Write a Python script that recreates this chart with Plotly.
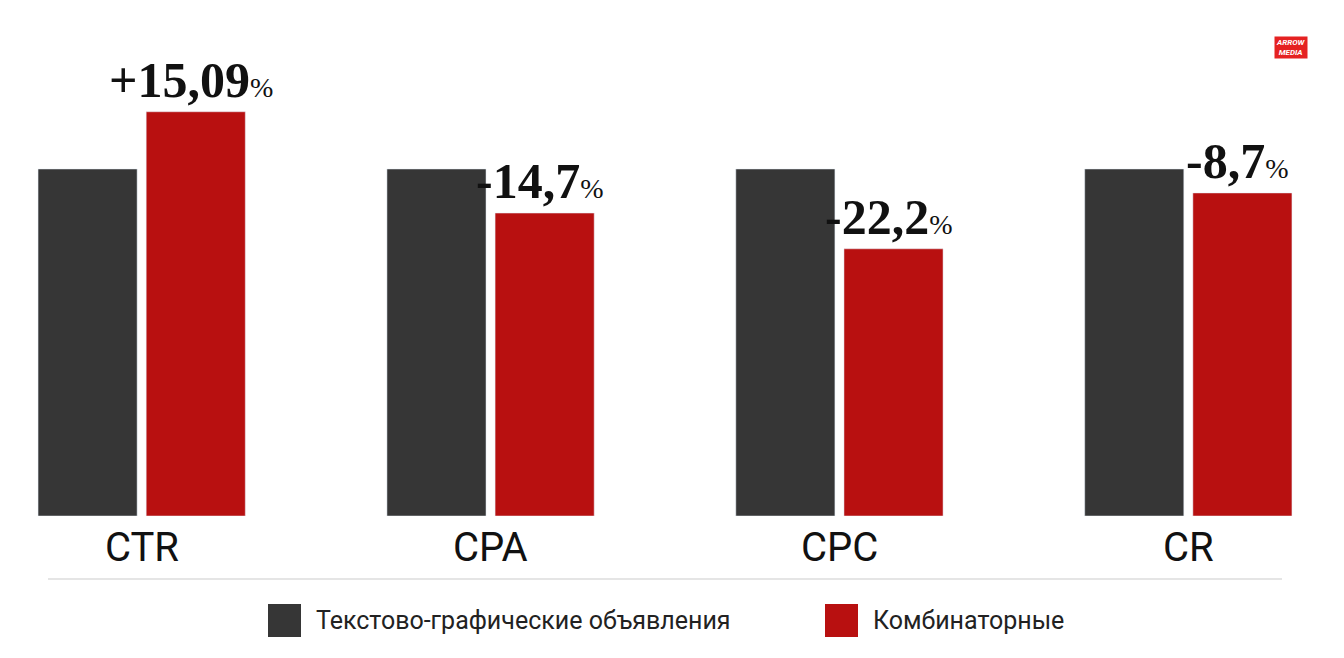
import plotly.graph_objects as go

categories = ["CTR", "CPA", "CPC", "CR"]
base_values = [100, 100, 100, 100]
combo_values = [116.5, 87.3, 77.0, 93.1]
change_labels = ["+15,09", "-14,7", "-22,2", "-8,7"]
legend_names = ["Текстово-графические объявления", "Комбинаторные"]

GREY = "#363636"
RED = "#b81010"
W, H = 1344, 658
OFF = 8  # page offset
L, R, T, B = 37 - OFF, 51 + OFF, 0, 142 + OFF
pw, ph = W - L - R, H - T - B


def px(x):
    return (x - OFF - L) / pw


def py(y):
    return (H - B - (y - OFF)) / ph


xs = list(range(len(categories)))
fig = go.Figure()
fig.add_trace(go.Bar(x=[i - 0.155 for i in xs], y=base_values, width=0.284,
                     marker_color=GREY, name=legend_names[0], hoverinfo="y"))
fig.add_trace(go.Bar(x=[i + 0.155 for i in xs], y=combo_values, width=0.284,
                     marker_color=RED, name=legend_names[1], hoverinfo="y"))

ann = []
for i, (c, v, lab) in enumerate(zip(categories, combo_values, change_labels)):
    ann.append(dict(x=i + 0.14, y=v, xref="x", yref="y", yanchor="bottom", yshift=2,
                    text=f"<b>{lab}</b><span style='font-size:28px'>%</span>",
                    showarrow=False,
                    font=dict(family="Liberation Sans Narrow", size=50, color="#111")))
    ann.append(dict(x=i, y=0, xref="x", yref="y", yanchor="top", yshift=-6,
                    text=c, showarrow=False,
                    font=dict(family="Roboto", size=40, color="#111")))

shapes = [dict(type="line", xref="paper", yref="paper", x0=px(48), x1=px(1282),
               y0=py(579), y1=py(579), line=dict(color="#dddddd", width=1.5))]
for x0, col, name in [(268, GREY, legend_names[0]), (825, RED, legend_names[1])]:
    shapes.append(dict(type="rect", xref="paper", yref="paper", x0=px(x0), x1=px(x0 + 33),
                       y0=py(637), y1=py(604), fillcolor=col, line_width=0))
    ann.append(dict(x=px(x0 + 46), y=py(620), xref="paper", yref="paper",
                    xanchor="left", yanchor="middle", text=name, showarrow=False,
                    font=dict(family="Roboto", size=25, color="#222")))

# logo
ann.append(dict(x=px(1308), y=py(36), xref="paper", yref="paper", text="<b><i>ARROW<br>MEDIA</i></b>",
                showarrow=False, font=dict(family="Roboto", size=8, color="#fff"),
                bgcolor="#e52222", borderpad=1))

fig.update_layout(
    width=W, height=H, margin=dict(l=L, r=R, t=T, b=B),
    plot_bgcolor="white", paper_bgcolor="white", showlegend=False,
    xaxis=dict(range=[-0.3, 3.3], visible=False),
    yaxis=dict(range=[0, (H - B - T) / 3.47], visible=False),
    annotations=ann, shapes=shapes,
)
fig.write_html("out.html")
